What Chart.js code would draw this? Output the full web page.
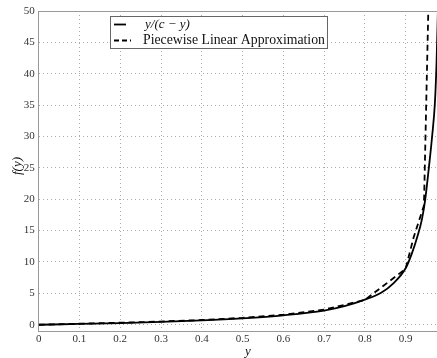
<!DOCTYPE html>
<html>
<head>
<meta charset="utf-8">
<script src="https://cdn.jsdelivr.net/npm/chart.js@4/dist/chart.umd.min.js"></script>
<style>
  html, body { margin: 0; padding: 0; background: #fff; }
  #wrap { width: 437px; height: 358px; position: relative; }
</style>
</head>
<body>
<div id="wrap"><canvas id="myChart" width="437" height="358"></canvas></div>
<script>
// values
const exactX = [0, 0.1, 0.2, 0.3, 0.4, 0.5, 0.6, 0.7, 0.75, 0.8, 0.84, 0.87, 0.9, 0.915, 0.93, 0.94, 0.948, 0.957, 0.965, 0.972, 0.976, 0.98];
const exactY = [0, 0.12, 0.26, 0.44, 0.68, 1.02, 1.5, 2.25, 2.95, 4.0, 5.1, 6.6, 9.0, 11.3, 14.3, 16.8, 19.9, 25, 30, 35.5, 42, 52];

const approxX = [0, 0.25, 0.4, 0.5, 0.6, 0.7, 0.8, 0.9, 0.92, 0.945, 0.957];
const approxY = [0, 0.4, 0.75, 1.1, 1.6, 2.4, 3.95, 8.9, 14, 19, 54];

const seriesNames = ['y/(c \u2212 y)', 'Piecewise Linear Approximation'];
const yTicks = [0, 5, 10, 15, 20, 25, 30, 35, 40, 45, 50];

function toPoints(xs, ys) {
  return xs.map((x, i) => ({ x: x, y: ys[i] }));
}

const tickFont = { family: 'Liberation Serif', size: 11 };

// frame + legend box + axis titles
const extras = {
  id: 'extras',
  afterDraw(chart) {
    const ctx = chart.ctx;
    const a = chart.chartArea;
    ctx.save();
    ctx.strokeStyle = '#999';
    ctx.lineWidth = 1;
    ctx.beginPath();
    ctx.moveTo(a.left, a.top + 0.5);
    ctx.lineTo(a.right, a.top + 0.5);
    ctx.stroke();

    // legend
    ctx.fillStyle = '#fff';
    ctx.fillRect(110.5, 16.5, 217, 32);
    ctx.strokeStyle = '#666';
    ctx.strokeRect(110.5, 16.5, 217, 32);
    ctx.strokeStyle = '#000';
    ctx.lineWidth = 1.8;
    ctx.beginPath();
    ctx.moveTo(114, 24.5);
    ctx.lineTo(126, 24.5);
    ctx.stroke();
    ctx.setLineDash([5, 3]);
    ctx.beginPath();
    ctx.moveTo(114, 40.5);
    ctx.lineTo(131, 40.5);
    ctx.stroke();
    ctx.setLineDash([]);

    ctx.fillStyle = '#111';
    ctx.textBaseline = 'middle';
    ctx.textAlign = 'left';
    ctx.font = 'italic 13px "Liberation Serif"';
    ctx.fillText(seriesNames[0], 145, 24.5);
    ctx.font = '13px "Liberation Serif"';
    let w = ctx.measureText(seriesNames[1]).width;
    let fs = 13 * 182 / w;
    ctx.font = fs.toFixed(2) + 'px "Liberation Serif"';
    ctx.fillText(seriesNames[1], 143, 40.5);

    // axis titles
    ctx.font = 'italic 13px "Liberation Serif"';
    ctx.textAlign = 'center';
    ctx.fillText('y', 248, 352);
    ctx.translate(18, 166);
    ctx.rotate(-Math.PI / 2);
    ctx.fillText('f(y)', 0, 0);
    ctx.restore();
  }
};

const config = {
  type: 'scatter',
  data: {
    datasets: [{
      label: seriesNames[0],
      data: toPoints(exactX, exactY),
      showLine: true,
      borderColor: '#000',
      borderWidth: 1.8,
      pointRadius: 0,
      cubicInterpolationMode: 'monotone'
    }, {
      label: seriesNames[1],
      data: toPoints(approxX, approxY),
      showLine: true,
      borderColor: '#000',
      borderWidth: 1.8,
      borderDash: [6, 4],
      pointRadius: 0,
      tension: 0
    }]
  },
  options: {
    responsive: false,
    animation: false,
    layout: { padding: { top: 11, right: 0, left: 0, bottom: 0 } },
    plugins: { legend: { display: false }, tooltip: { enabled: false } },
    scales: {
      x: {
        type: 'linear',
        min: 0,
        max: 0.977,
        afterFit(s) { s.height = 27; },
        ticks: {
          stepSize: 0.1,
          includeBounds: false,
          padding: 2,
          font: tickFont,
          color: '#333',
          maxRotation: 0,
          callback: v => String(Math.round(v * 10) / 10)
        },
        grid: { color: '#aaa', drawTicks: false },
        border: { color: '#999', width: 1, dash: [1, 3] }
      },
      y: {
        type: 'linear',
        min: -1,
        max: 50,
        afterFit(s) { s.width = 38.7; },
        afterBuildTicks(s) { s.ticks = yTicks.map(v => ({ value: v })); },
        ticks: {
          padding: 4,
          font: tickFont,
          color: '#333'
        },
        grid: { color: '#aaa', drawTicks: false },
        border: { color: '#999', width: 1, dash: [1, 3] }
      }
    }
  },
  plugins: [extras]
};

var myChart = new Chart(document.getElementById('myChart'), config);
</script>
</body>
</html>
